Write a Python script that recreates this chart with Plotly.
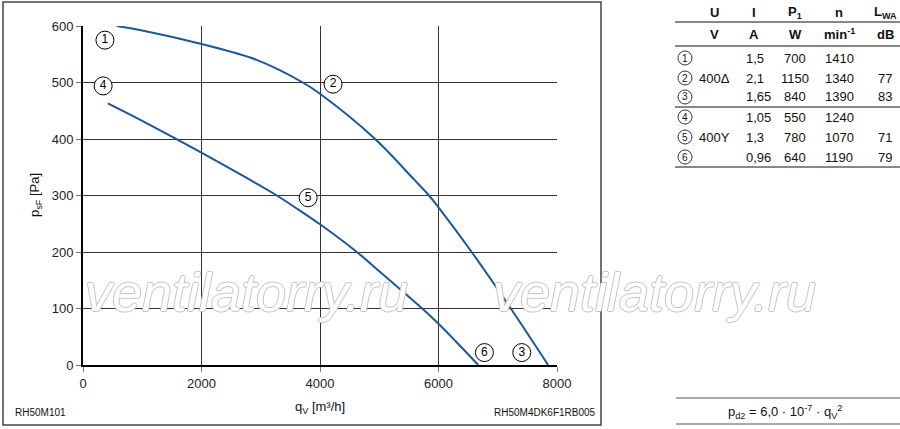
import plotly.graph_objects as go

# curve 1-2-3 (400 delta) and curve 4-5-6 (400 Y)
flow_delta = [570, 1000, 2000, 2930, 3710, 4000, 4930, 5590, 5840, 6000, 6560, 7220, 7850]
press_delta = [600, 592, 568, 540, 500, 480, 400, 328, 300, 279, 200, 100, 0]
flow_star = [420, 1000, 1975, 3270, 3650, 4000, 4610, 5000, 5725, 6000, 6290, 6670]
press_star = [463, 432, 377, 300, 274, 249, 201, 166, 100, 73, 42, 0]

# operating point labels on the curves
point_ids = ["1", "2", "3", "4", "5", "6"]
point_flow = [370, 4220, 7405, 340, 3800, 6775]
point_press = [575, 497, 22, 494, 296, 22]

x_ticks = [0, 2000, 4000, 6000, 8000]
y_ticks = [0, 100, 200, 300, 400, 500, 600]

# table
head_top = ["U", "I", "P<sub>1</sub>", "n", "L<sub>WA</sub>"]
head_units = ["V", "A", "W", "min<sup>-1</sup>", "dB"]
col_voltage = ["", "400Δ", "", "", "400Y", ""]
col_current = ["1,5", "2,1", "1,65", "1,05", "1,3", "0,96"]
col_power = ["700", "1150", "840", "550", "780", "640"]
col_speed = ["1410", "1340", "1390", "1240", "1070", "1190"]
col_noise = ["", "77", "83", "", "71", "79"]

FONT = "Liberation Sans, Arial, sans-serif"
BLUE = "#1d5797"

# plot area in pixels: x 83..557, y 26..365
L, R, T, B = 83, 557, 26, 365


def px(x, y):
    return (x - L) / (R - L), (B - y) / (B - T)


fig = go.Figure()

fig.add_trace(go.Scatter(x=flow_delta, y=press_delta, mode="lines",
                         line=dict(color=BLUE, width=2, shape="spline", smoothing=1.0),
                         hoverinfo="skip"))
fig.add_trace(go.Scatter(x=flow_star, y=press_star, mode="lines",
                         line=dict(color=BLUE, width=2, shape="spline", smoothing=1.0),
                         hoverinfo="skip"))
fig.add_trace(go.Scatter(x=point_flow, y=point_press, mode="markers+text",
                         text=point_ids, textposition="middle center",
                         textfont=dict(family=FONT, size=12, color="black"),
                         marker=dict(size=18, color="white", line=dict(color="black", width=1)),
                         cliponaxis=False, hoverinfo="skip"))

fig.update_layout(
    width=900, height=429,
    margin=dict(l=L, r=900 - R, t=T, b=429 - B),
    paper_bgcolor="white", plot_bgcolor="white",
    showlegend=False,
    font=dict(family=FONT, size=13, color="#222"),
)
fig.update_xaxes(range=[0, 8000], tickvals=x_ticks, showgrid=True, gridcolor="#333", gridwidth=1,
                 zeroline=False, showline=True, linecolor="black", linewidth=2,
                 ticks="outside", ticklen=5, tickcolor="#777", tickfont=dict(size=13))
fig.update_yaxes(range=[0, 600], tickvals=y_ticks, showgrid=True, gridcolor="#333", gridwidth=1,
                 zeroline=False, showline=True, linecolor="black", linewidth=2,
                 ticks="outside", ticklen=5, tickcolor="#777", tickfont=dict(size=13))

shapes = []
annots = []


def text(x, y, s, size=13, anchor="center", bold=False, **kw):
    xx, yy = px(x, y)
    if bold:
        s = "<b>" + s + "</b>"
    annots.append(dict(x=xx, y=yy, xref="paper", yref="paper", text=s, showarrow=False,
                       xanchor=anchor, yanchor="middle",
                       font=dict(family=FONT, size=size, color="#111"), **kw))


def hline(x0, x1, y, color="#111", width=1):
    a, b = px(x0, y)
    c, _ = px(x1, y)
    shapes.append(dict(type="line", xref="paper", yref="paper", x0=a, x1=c, y0=b, y1=b,
                       line=dict(color=color, width=width)))


# outer frame
fx0, fy0 = px(3, 425)
fx1, fy1 = px(601, 2)
shapes.append(dict(type="rect", xref="paper", yref="paper", x0=fx0, x1=fx1, y0=fy0, y1=fy1,
                   line=dict(color="#444", width=1.5)))

# watermark
for cx in [246, 654]:
    xx, yy = px(cx, 292)
    annots.append(dict(x=xx, y=yy, xref="paper", yref="paper", text="<i>ventilatorry.ru</i>",
                       showarrow=False, xanchor="center", yanchor="middle",
                       font=dict(family=FONT, size=54, color="white",
                                 shadow="1px 0 0 #c4c4c4, -1px 0 0 #c4c4c4, 0 1px 0 #c4c4c4, 0 -1px 0 #c4c4c4")))

# axis titles and footers
text(320, 407, "q<sub>V</sub> [m³/h]", size=13)
xx, yy = px(35, 195)
annots.append(dict(x=xx, y=yy, xref="paper", yref="paper", text="p<sub>sF</sub> [Pa]",
                   showarrow=False, textangle=-90, xanchor="center", yanchor="middle",
                   font=dict(family=FONT, size=13, color="#111")))
text(13, 412, "RH50M101", size=10, anchor="left")
text(598, 412, "RH50M4DK6F1RB005", size=10, anchor="right")

# table
cols_x = [714, 754, 795, 839, 885]
for cx, s in zip(cols_x, head_top):
    text(cx, 12, s, size=13, bold=True)
for cx, s in zip(cols_x, head_units):
    text(cx, 34, s, size=13, bold=True)
hline(675, 900, 22)
hline(675, 900, 46)
hline(675, 900, 107)
hline(675, 900, 167)

row_y = [58, 78, 97, 117, 137, 157]
for i, ry in enumerate(row_y):
    cx0, cy0 = px(678, ry - 7)
    cx1, cy1 = px(692, ry + 7)
    shapes.append(dict(type="circle", xref="paper", yref="paper", x0=cx0, x1=cx1, y0=cy0, y1=cy1,
                       line=dict(color="#333", width=1)))
    text(685, ry, point_ids[i], size=10)
    text(714, ry, col_voltage[i])
    text(744, ry, col_current[i], anchor="left")
    text(795, ry, col_power[i])
    text(839, ry, col_speed[i])
    text(885, ry, col_noise[i])

# dynamic pressure formula
hline(676, 900, 398, color="#555")
hline(676, 900, 424, color="#555")
text(785, 412, "p<sub>d2</sub> = 6,0 · 10<sup>-7</sup> · q<sub>V</sub><sup>2</sup>", size=13)

fig.update_layout(shapes=shapes, annotations=annots)
fig.write_html("out.html", config={"displayModeBar": False},
               post_script="document.body.style.margin='0';document.body.style.overflow='hidden';")
